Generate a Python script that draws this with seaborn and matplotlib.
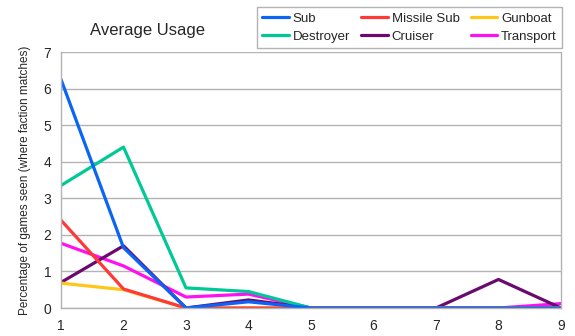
import matplotlib
matplotlib.use("Agg")
import matplotlib.pyplot as plt
import seaborn as sns
import pandas as pd
from matplotlib.lines import Line2D

# Average usage per turn, by unit type
turns = [1, 2, 3, 4, 5, 6, 7, 8, 9]
sub = [6.25, 1.65, 0.0, 0.17, 0.0, 0.0, 0.0, 0.0, 0.0]
missile_sub = [2.4, 0.52, 0.0, 0.0, 0.0, 0.0, 0.0, 0.0, 0.0]
gunboat = [0.68, 0.5, 0.0, 0.0, 0.0, 0.0, 0.0, 0.0, 0.0]
destroyer = [3.35, 4.4, 0.55, 0.45, 0.0, 0.0, 0.0, 0.0, 0.0]
cruiser = [0.7, 1.7, 0.0, 0.22, 0.0, 0.0, 0.0, 0.78, 0.0]
transport = [1.77, 1.15, 0.3, 0.38, 0.0, 0.0, 0.0, 0.0, 0.12]

series = {
    "Sub": sub,
    "Missile Sub": missile_sub,
    "Gunboat": gunboat,
    "Destroyer": destroyer,
    "Cruiser": cruiser,
    "Transport": transport,
}
colors = {
    "Sub": "#0a64f5",
    "Missile Sub": "#ff3838",
    "Gunboat": "#ffc61a",
    "Destroyer": "#00c896",
    "Cruiser": "#6a0a6e",
    "Transport": "#ff10f0",
}

df = pd.DataFrame(
    [(t, name, v) for name, vals in series.items() for t, v in zip(turns, vals)],
    columns=["turn", "unit", "value"],
)

sns.set_style("white")
plt.rcParams["font.family"] = ["Liberation Sans", "DejaVu Sans"]

fig = plt.figure(figsize=(5.75, 3.36), dpi=100)
ax = fig.add_axes([61 / 575, 1 - 308 / 336, 500 / 575, 256 / 336])

# Draw order: later series sit on top
draw_order = ["Transport", "Cruiser", "Destroyer", "Gunboat", "Missile Sub", "Sub"]
sns.lineplot(data=df, x="turn", y="value", hue="unit", hue_order=draw_order,
             palette=colors, linewidth=2.3, ax=ax, legend=False)

ax.set_xlim(1, 9)
ax.set_ylim(0, 7)
ax.set_xticks(turns)
ax.set_yticks(range(0, 8))
ax.set_xlabel("")
ax.set_ylabel("Percentage of games seen (where faction matches)", fontsize=8.5, labelpad=9)
ax.tick_params(axis="both", labelsize=10, length=3, color="#b3b3b3", width=1, pad=4)
ax.tick_params(axis="x", pad=5)

# horizontal grid only
ax.yaxis.grid(True, color="#b3b3b3", linewidth=1)
ax.xaxis.grid(False)
for tick in ax.xaxis.get_major_ticks():
    tick.gridline.set_visible(False)
ax.set_axisbelow(True)
for side in ["left", "bottom", "right", "top"]:
    ax.spines[side].set_color("#b3b3b3")
    ax.spines[side].set_linewidth(1)
ax.spines["top"].set_visible(False)

fig.text(148 / 575, 1 - 30 / 336, "Average Usage", fontsize=12, ha="center", va="center")

legend_order = ["Sub", "Destroyer", "Missile Sub", "Cruiser", "Gunboat", "Transport"]
handles = [Line2D([0], [0], color=colors[n], linewidth=2.3) for n in legend_order]
leg = fig.legend(handles, legend_order, loc="upper right",
                 bbox_to_anchor=(562 / 575, 1 - 7 / 336), ncol=3, fontsize=9.5,
                 frameon=True, fancybox=False, framealpha=1, edgecolor="#b3b3b3",
                 handlelength=2.0, handletextpad=0.3, columnspacing=0.85,
                 labelspacing=0.45, borderpad=0.4, borderaxespad=0)
leg.get_frame().set_linewidth(1)

fig.savefig("out.png", dpi=100)
